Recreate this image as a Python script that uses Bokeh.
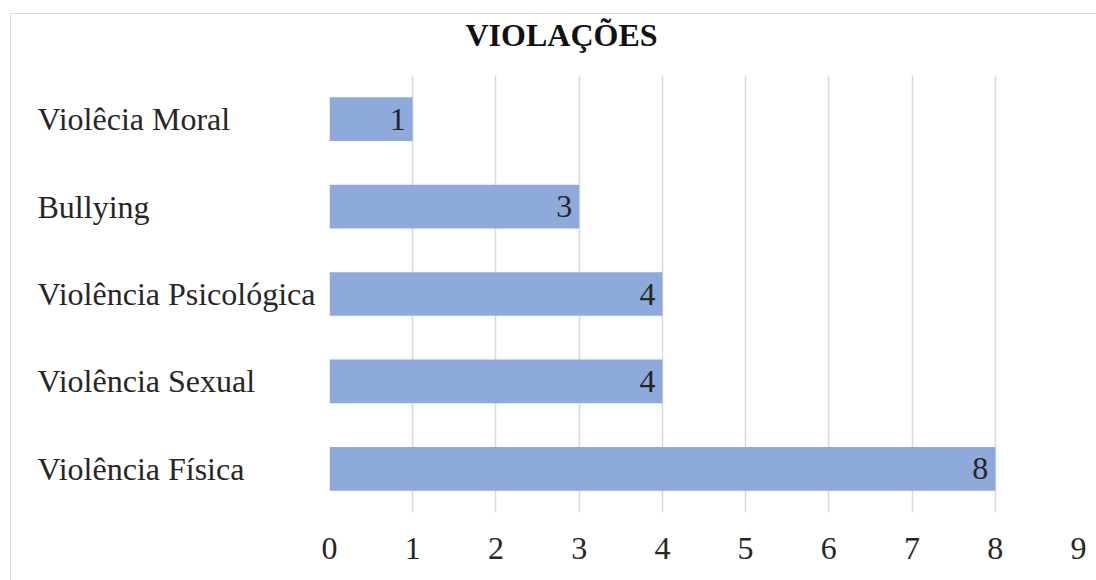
from bokeh.plotting import figure
from bokeh.models import ColumnDataSource, LabelSet, Range1d, FixedTicker, Title
from bokeh.layouts import row
from bokeh.embed import file_html
from bokeh.resources import INLINE

# --- data (bottom to top) ---
categories = ["Violência Física", "Violência Sexual", "Violência Psicológica", "Bullying", "Violêcia Moral"]
counts = [8, 4, 4, 3, 1]
x_ticks = [0, 1, 2, 3, 4, 5, 6, 7, 8, 9]
title_text = "VIOLAÇÕES"

FONT = "Liberation Serif"
TXT = "#262626"
BAR = "#8eaadb"
GRID = "#d9d9d9"

src = ColumnDataSource(dict(cat=categories, val=counts))

# main plot
p = figure(width=776, height=566, y_range=categories, x_range=Range1d(0, 9),
           output_backend="svg", toolbar_location=None, title=None,
           min_border_left=9, min_border_right=18, min_border_top=61, min_border_bottom=68)
p.outline_line_color = None

p.hbar(y="cat", right="val", left=0, height=0.5, source=src,
       fill_color=BAR, line_color=None)

# spacer between frame and title, then the title itself
p.add_layout(Title(text=" ", text_font_size="1px", standoff=20), "above")
p.add_layout(Title(text=title_text, text_font=FONT, text_font_size="32px",
                   text_font_style="bold", text_color="#111111",
                   align="left", offset=136, standoff=0), "above")

p.xaxis.ticker = FixedTicker(ticks=x_ticks)
p.xaxis.axis_line_color = None
p.xaxis.major_tick_line_color = None
p.xaxis.minor_tick_line_color = None
p.xaxis.major_label_text_font = FONT
p.xaxis.major_label_text_font_size = "32px"
p.xaxis.major_label_text_color = TXT
p.xaxis.major_label_standoff = 19

p.yaxis.visible = False
p.ygrid.grid_line_color = None
p.xgrid.grid_line_color = GRID
p.xgrid.grid_line_width = 1.5

val_labels = LabelSet(x="val", y="cat", text="val", source=src, x_offset=-7,
                      text_align="right", text_baseline="middle",
                      text_font=FONT, text_font_size="32px", text_color=TXT)
p.add_layout(val_labels)

# category label panel (left-aligned labels sharing the y range)
lab = figure(width=309, height=566, y_range=p.y_range, x_range=Range1d(0, 309),
             output_backend="svg", toolbar_location=None,
             min_border_left=0, min_border_right=0, min_border_top=61, min_border_bottom=68)
lab.axis.visible = False
lab.grid.grid_line_color = None
lab.outline_line_color = None
lab.text(x=26, y="cat", text="cat", source=src, text_align="left", text_baseline="middle",
         text_font={"value": FONT}, text_font_size="32px", text_color=TXT)

layout = row(lab, p, styles={"margin-left": "10px", "margin-top": "13px",
                             "border-left": "1px solid #dcdcdc", "border-top": "1px solid #dcdcdc"})

open("out.html", "w").write(file_html(layout, INLINE))
